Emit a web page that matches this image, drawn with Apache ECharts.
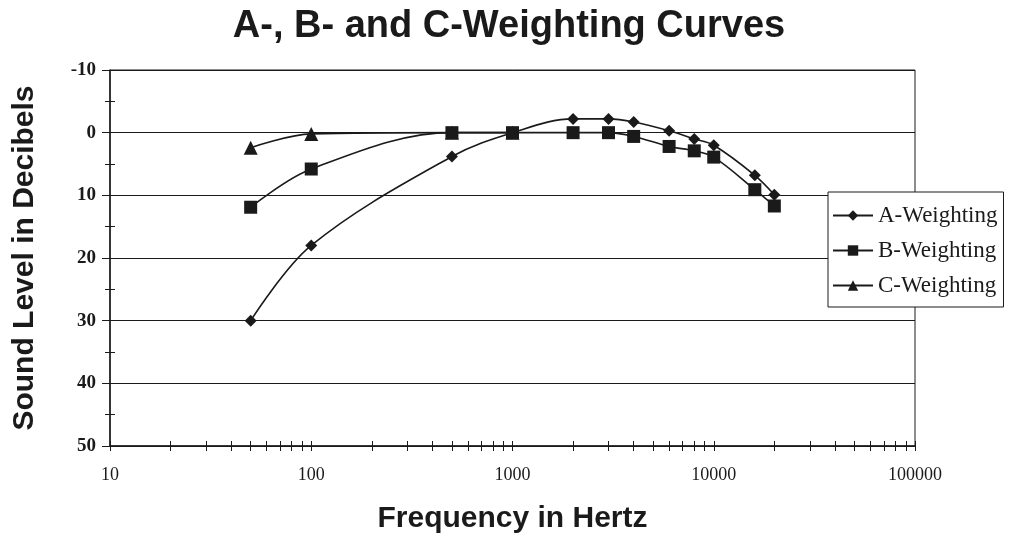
<!DOCTYPE html>
<html>
<head>
<meta charset="utf-8">
<title>A-, B- and C-Weighting Curves</title>
<script src="https://cdn.jsdelivr.net/npm/echarts@6/dist/echarts.min.js"></script>
<style>
    html, body { margin: 0; padding: 0; background: #fff; }
    #main { width: 1018px; height: 542px; }
</style>
</head>
<body>
<div id="main"></div>
<script>
// frequencies (Hz) where each curve is sampled
var freqA = [50, 100, 500, 1000, 2000, 3000, 4000, 6000, 8000, 10000, 16000, 20000];
var levelA = [30, 18, 3.8, 0, -2.2, -2.2, -1.7, -0.3, 1, 2, 6.8, 9.9];
var freqB = [50, 100, 500, 1000, 2000, 3000, 4000, 6000, 8000, 10000, 16000, 20000];
var levelB = [11.9, 5.8, 0, 0, 0, 0, 0.6, 2.2, 2.9, 3.9, 9.1, 11.7];
var freqC = [50, 100, 500, 1000];
var levelC = [2.4, 0.2, 0, 0];
var seriesNames = ['A-Weighting', 'B-Weighting', 'C-Weighting'];
var xTicks = [10, 100, 1000, 10000, 100000];
var yTicks = [-10, 0, 10, 20, 30, 40, 50];

function pairs(xs, ys) {
    return xs.map(function (x, i) { return [x, ys[i]]; });
}

var chart = echarts.init(document.getElementById('main'));
var ink = '#1a1a1a';
var serif = 'Liberation Serif, Times New Roman, serif';
var sans = 'Liberation Sans, Arial, sans-serif';

function lineSeries(name, data, symbol, size) {
    return {
        name: name,
        type: 'line',
        smooth: 0.35,
        data: data,
        symbol: symbol,
        symbolSize: size,
        showAllSymbol: true,
        lineStyle: { color: ink, width: 1.6 },
        itemStyle: { color: ink },
        emphasis: { disabled: true }
    };
}

// same log axis twice: one with outward ticks and labels, one with inward ticks
function logAxis(extra) {
    var ax = {
        type: 'log',
        logBase: 10,
        min: xTicks[0],
        max: xTicks[xTicks.length - 1],
        position: 'bottom',
        splitLine: { show: false },
        minorTick: { show: true, splitNumber: 9, length: 5, lineStyle: { color: ink } }
    };
    return Object.assign(ax, extra);
}

function valueAxis(extra) {
    var ax = {
        type: 'value',
        inverse: true,
        min: yTicks[0],
        max: yTicks[yTicks.length - 1],
        interval: 10,
        position: 'left',
        minorTick: { show: true, splitNumber: 2, length: 5, lineStyle: { color: ink } }
    };
    return Object.assign(ax, extra);
}

var option = {
    animation: false,
    backgroundColor: '#fff',
    title: {
        text: 'A-, B- and C-Weighting Curves',
        left: 'center',
        top: 3,
        textStyle: {
            fontFamily: sans,
            fontWeight: 'bold',
            fontSize: 38,
            color: ink
        }
    },
    legend: {
        data: seriesNames,
        orient: 'vertical',
        left: 828,
        top: 192,
        itemWidth: 40,
        itemHeight: 13,
        itemGap: 12,
        padding: [12, 6, 10, 4],
        borderColor: ink,
        borderWidth: 1,
        backgroundColor: '#fff',
        textStyle: {
            fontFamily: serif,
            fontSize: 23,
            color: ink
        }
    },
    grid: {
        left: 110,
        right: 103,
        top: 70,
        bottom: 96,
        show: true,
        borderColor: ink,
        borderWidth: 1
    },
    xAxis: [
        logAxis({
            name: 'Frequency in Hertz',
            nameLocation: 'middle',
            nameGap: 58,
            nameTextStyle: {
                fontFamily: sans,
                fontWeight: 'bold',
                fontSize: 30,
                color: ink
            },
            axisLine: { show: true, onZero: false, lineStyle: { color: ink, width: 1.5 } },
            axisTick: { show: true, length: 5, lineStyle: { color: ink } },
            axisLabel: {
                margin: 20,
                fontFamily: serif,
                fontSize: 18,
                color: ink,
                formatter: function (v) { return String(v); }
            }
        }),
        logAxis({
            axisLine: { show: false, onZero: false },
            axisTick: { show: true, inside: true, length: 5, lineStyle: { color: ink } },
            axisLabel: { show: false }
        })
    ],
    yAxis: [
        valueAxis({
            name: 'Sound Level in Decibels',
            nameLocation: 'middle',
            nameGap: 70,
            nameTextStyle: {
                fontFamily: sans,
                fontWeight: 'bold',
                fontSize: 30,
                color: ink
            },
            axisLine: { show: true, onZero: false, lineStyle: { color: ink, width: 1.5 } },
            axisTick: { show: true, length: 8, lineStyle: { color: ink } },
            splitLine: { show: true, lineStyle: { color: ink, width: 1.2 } },
            axisLabel: {
                margin: 14,
                fontFamily: serif,
                fontWeight: 'bold',
                fontSize: 19,
                color: ink
            }
        }),
        valueAxis({
            axisLine: { show: false, onZero: false },
            axisTick: { show: false, inside: true },
            splitLine: { show: false },
            axisLabel: { show: false }
        })
    ],
    series: [
        lineSeries(seriesNames[0], pairs(freqA, levelA), 'diamond', 12),
        lineSeries(seriesNames[1], pairs(freqB, levelB), 'rect', 13),
        lineSeries(seriesNames[2], pairs(freqC, levelC), 'triangle', 14)
    ]
};

chart.setOption(option);
</script>
</body>
</html>
